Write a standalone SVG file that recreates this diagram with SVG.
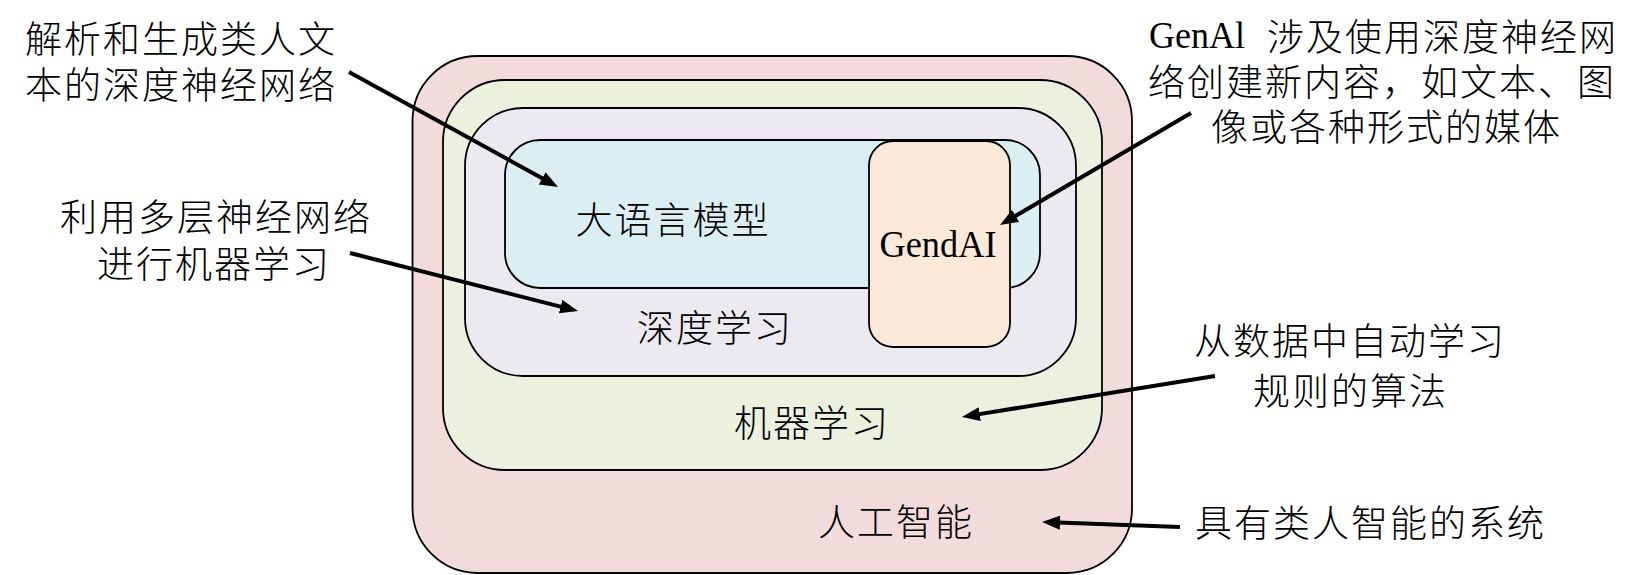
<svg xmlns="http://www.w3.org/2000/svg" width="1649" height="575" viewBox="0 0 1649 575">
<style>
.box{stroke:#000;stroke-width:1.8}
.t{font-family:"Noto Sans CJK SC","Noto Sans",sans-serif;font-size:37px;font-weight:300;letter-spacing:2px;fill:#000}
.lat{font-family:"Liberation Serif",serif;font-size:37px;fill:#000}
.c{text-anchor:middle}
.arr{stroke:#000;stroke-width:4;fill:none;marker-end:url(#ah)}
</style>
<defs>
<marker id="ah" markerUnits="userSpaceOnUse" markerWidth="20" markerHeight="16" refX="2" refY="7" orient="auto">
<path d="M0,0 L18,7 L0,14 Z" fill="#000"/>
</marker>
</defs>
<rect width="1649" height="575" fill="#fff"/>
<g id="node-ai">
<rect class="box" x="412.5" y="56" width="719.5" height="517" rx="65" fill="#F2DCDB"/>
<text class="t c" x="896" y="536">人工智能</text>
</g>
<g id="node-ml">
<rect class="box" x="443" y="80" width="659" height="390" rx="62" fill="#EBF1DE"/>
<text class="t c" x="812" y="437">机器学习</text>
</g>
<g id="node-dl">
<rect class="box" x="465" y="108" width="611" height="268" rx="58" fill="#ECE9F1"/>
<text class="t c" x="715" y="342">深度学习</text>
</g>
<g id="node-llm">
<rect class="box" x="505" y="140" width="535" height="148" rx="35" fill="#DAEEF3"/>
<text class="t c" x="673" y="234">大语言模型</text>
</g>
<g id="node-genai">
<rect class="box" x="869" y="141" width="141" height="206" rx="24" fill="#FDE9D9"/>
<text class="lat" x="938" y="257" text-anchor="middle" font-size="42" textLength="117" lengthAdjust="spacingAndGlyphs">GendAI</text>
</g>
<g id="note-llm">
<text class="t" x="25" y="53">解析和生成类人文</text>
<text class="t" x="25" y="99">本的深度神经网络</text>
</g>
<g id="note-dl">
<text class="t c" x="216" y="231">利用多层神经网络</text>
<text class="t c" x="214" y="278">进行机器学习</text>
</g>
<g id="note-genai">
<text class="lat" x="1149" y="48" textLength="96" lengthAdjust="spacingAndGlyphs">GenAl</text>
<text class="t" x="1267" y="51">涉及使用深度神经网</text>
<text class="t" x="1148" y="96">络创建新内容，如文本、图</text>
<text class="t" x="1211" y="141">像或各种形式的媒体</text>
</g>
<g id="note-ml">
<text class="t" x="1194" y="355">从数据中自动学习</text>
<text class="t" x="1253" y="405">规则的算法</text>
</g>
<g id="note-ai">
<text class="t" x="1195" y="537">具有类人智能的系统</text>
</g>
<g id="connectors">
<path class="arr" d="M349,72 L544,179.3"/>
<path class="arr" d="M350,253 L562.5,307.1"/>
<path class="arr" d="M1191,113 L1013.8,216.9"/>
<path class="arr" d="M1215,376 L977.8,414.4"/>
<path class="arr" d="M1180,527 L1058,522.6"/>
</g>
</svg>
